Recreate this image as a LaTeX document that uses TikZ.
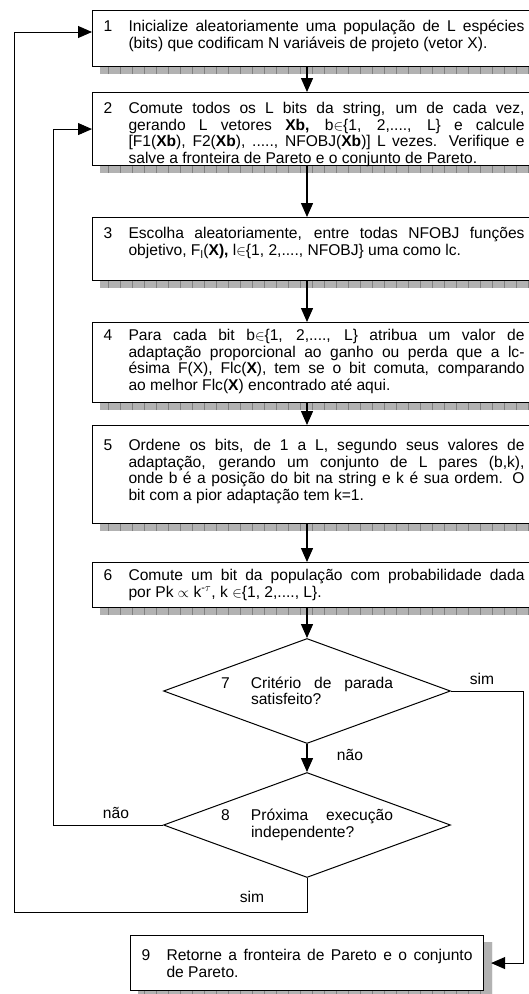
\documentclass[tikz,border=0pt]{standalone}
\usepackage{fontspec}
\setmainfont{Liberation Sans}
\usepackage{tikz}
\usetikzlibrary{positioning,arrows.meta,calc,shapes.geometric,backgrounds}
\definecolor{shadowgray}{RGB}{178,178,178}
\definecolor{shadowline}{RGB}{128,128,128}
\newcommand{\flowfont}{\fontsize{15.6}{16.5}\selectfont}
\newcommand{\stepno}[3][25pt]{\makebox[#1][l]{#2}\parbox[t]{\dimexpr\linewidth-#1\relax}{\rightskip=0pt\leftskip=0pt\parfillskip=0pt plus 1fil\relax #3}}
\tikzset{
    stepbox/.style={draw=black, line width=1.1pt, fill=white, anchor=north west, align=justify, font=\flowfont, text width=421pt, inner xsep=11pt, inner ysep=0pt},
    decision/.style={diamond, draw=black, line width=1pt, fill=white, align=justify, font=\flowfont, text width=172pt, inner sep=0pt, minimum width=287pt, minimum height=105pt, shape aspect=2.73},
    boxshadow/.style={fill=shadowgray, path picture={\draw[shadowline, line width=0.5pt] (path picture bounding box.south west) grid[xstep=12pt, ystep=500pt] (path picture bounding box.north east);}},
    arrow/.style={-{Triangle[length=14pt,width=12pt]}, line width=1.4pt},
    backarrow/.style={-{Triangle[length=14pt,width=12pt]}, line width=0.9pt},
    tag/.style={font=\flowfont, inner sep=1pt}
}

\begin{document}
\begin{tikzpicture}[x=1pt,y=-1pt]
\useasboundingbox (0,0) rectangle (529,994);
\clip (0,0) rectangle (529,994);
\node[stepbox, text height=21pt, text depth=35pt] (b1) at (92,10) {\stepno{1}{Inicialize aleatoriamente uma população de L espécies\linebreak (bits) que codificam N variáveis de projeto (vetor X).}};
\node[stepbox, text height=21pt, text depth=52pt] (b2) at (92,92) {\stepno{2}{Comute todos os L bits da string, um de cada vez,\linebreak gerando L vetores \textbf{Xb,} b$\in$\{1, 2,...., L\} e calcule\linebreak{}[F1(\textbf{Xb}), F2(\textbf{Xb}), ....., NFOBJ(\textbf{Xb})] L vezes. Verifique e\linebreak salve a fronteira de Pareto e o conjunto de Pareto.}};
\node[stepbox, text height=21pt, text depth=42pt] (b3) at (92,217) {\stepno{3}{Escolha aleatoriamente, entre todas NFOBJ funções\linebreak objetivo, F\textsubscript{l}(\textbf{X),} l$\in$\{1, 2,...., NFOBJ\} uma como lc.}};
\node[stepbox, text height=18pt, text depth=62pt] (b4) at (92,322) {\stepno{4}{Para cada bit b$\in$\{1, 2,...., L\} atribua um valor de\linebreak adaptação proporcional ao ganho ou perda que a lc-\linebreak ésima F(X), Flc(\textbf{X}), tem se o bit comuta, comparando\linebreak ao melhor Flc(\textbf{X}) encontrado até aqui.}};
\node[stepbox, text height=25pt, text depth=73pt] (b5) at (92,425) {\stepno{5}{Ordene os bits, de 1 a L, segundo seus valores de\linebreak adaptação, gerando um conjunto de L pares (b,k),\linebreak onde b é a posição do bit na string e k é sua ordem. O\linebreak bit com a pior adaptação tem k=1.}};
\node[stepbox, text height=18pt, text depth=27pt] (b6) at (92,562) {\stepno{6}{Comute um bit da população com probabilidade dada\linebreak por Pk $\propto$ k\textsuperscript{-$\tau$}, k $\in$\{1, 2,...., L\}.}};
\node[decision] (d7) at (307,691) {\stepno[30pt]{7}{Critério de parada\linebreak satisfeito?}};
\node[decision] (d8) at (307,825) {\stepno[30pt]{8}{Próxima execução\linebreak independente?}};
\node[stepbox, text height=25pt, text depth=30pt, text width=331pt] (b9) at (130,935) {\stepno{9}{Retorne a fronteira de Pareto e o conjunto\linebreak de Pareto.}};
\begin{scope}[on background layer]
\clip (0,0) rectangle (529,994);
\foreach \b in {b1,b2,b3,b4,b5,b6,b9}
    \path[boxshadow] ([shift={(8pt,-7pt)}]\b.south west) rectangle ([shift={(8pt,-7pt)}]\b.north east);
\end{scope}
\draw[arrow] (b1.south -| d7.north) -- (b2.north -| d7.north);
\draw[arrow] (b2.south -| d7.north) -- (b3.north -| d7.north);
\draw[arrow] (b3.south -| d7.north) -- (b4.north -| d7.north);
\draw[arrow] (b4.south -| d7.north) -- (b5.north -| d7.north);
\draw[arrow] (b5.south -| d7.north) -- (b6.north -| d7.north);
\draw[arrow] (b6.south -| d7.north) -- (d7.north);
\draw[arrow] (d7.south) -- (d8.north);
\draw[backarrow] (d8.west) -| ([xshift=-39pt]b2.west) -- (b2.west);
\draw[backarrow] (d8.south) -- ++(0,34) -| ([xshift=-78pt,yshift=-22pt]b1.north west) -- ([yshift=-22pt]b1.north west);
\draw[backarrow] (d7.east) -| ([xshift=39pt]b9.east) -- ([xshift=7pt]b9.east);
\node[tag] (sim7) at (482,679) {sim};
\node[tag] (nao7) at (350,755) {não};
\node[tag] (nao8) at (116,813) {não};
\node[tag] (sim8) at (252,897) {sim};
\end{tikzpicture}
\end{document}
